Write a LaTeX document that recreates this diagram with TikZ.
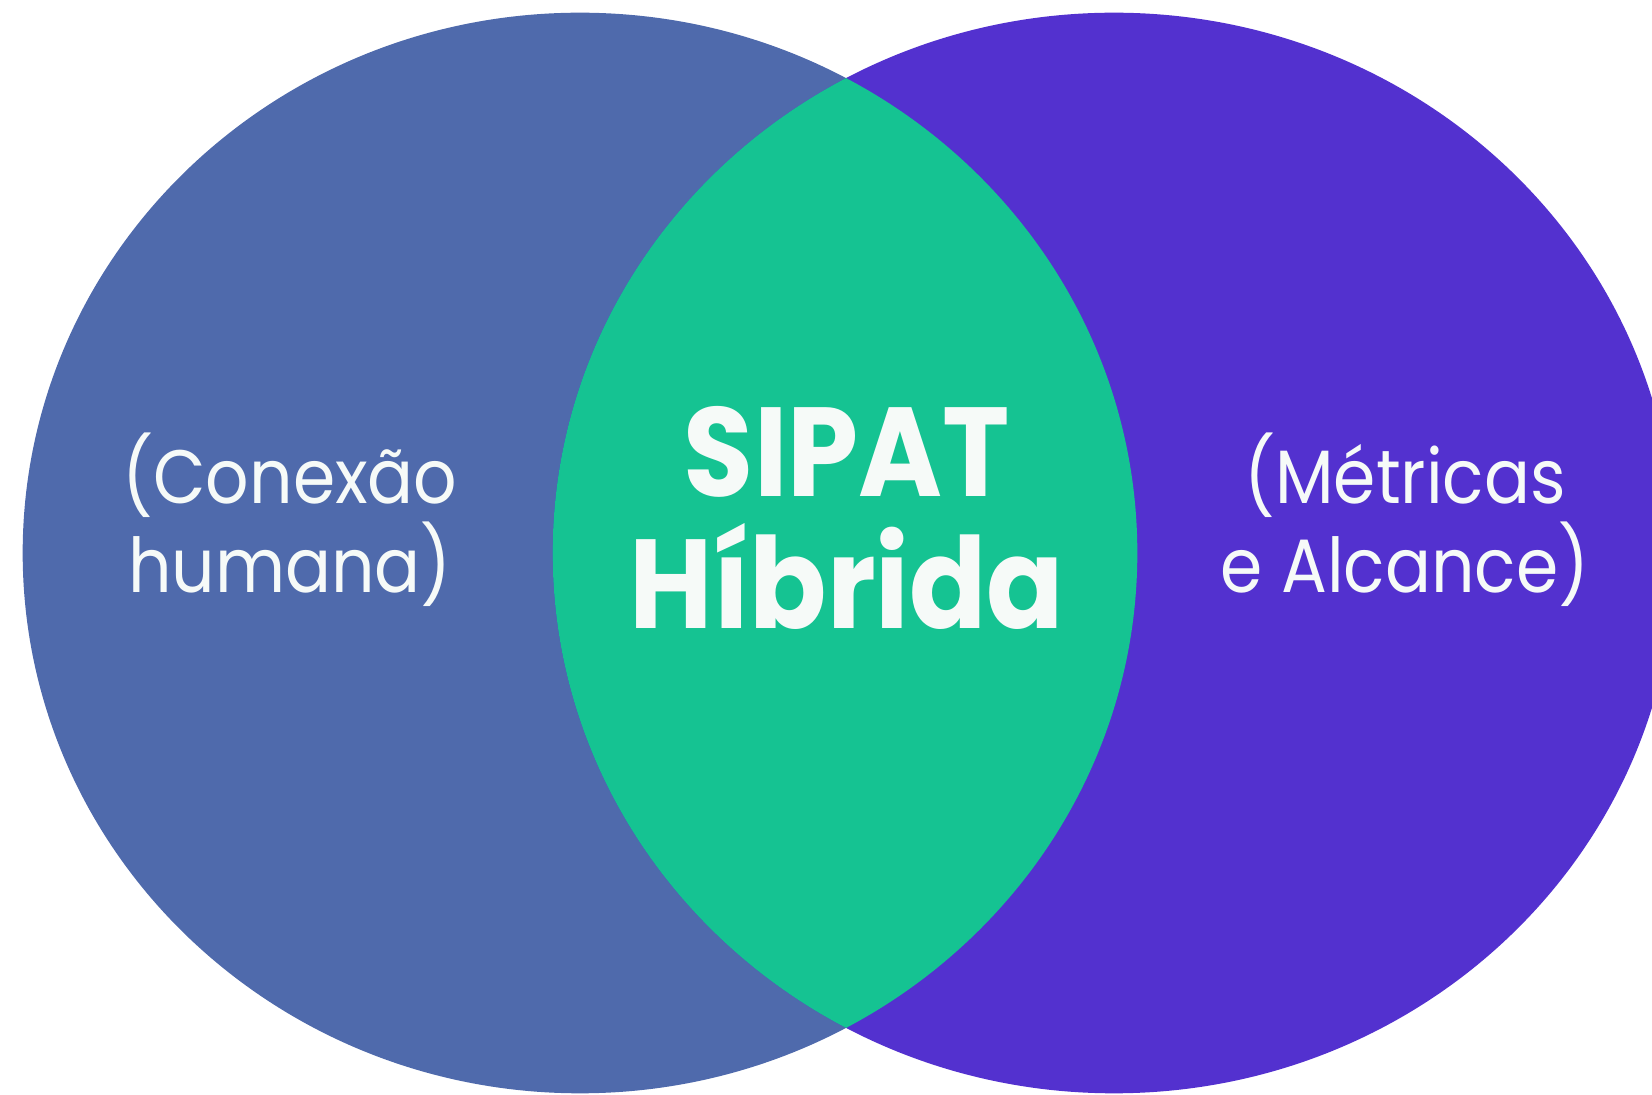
\documentclass[tikz,border=0pt]{standalone}
\usepackage{fontspec}
\setmainfont{Poppins}[FakeStretch=0.9]
\usetikzlibrary{positioning}
\definecolor{humanblue}{HTML}{4F6AAC}
\definecolor{reachviolet}{HTML}{5331CF}
\definecolor{hybridgreen}{HTML}{15C392}
\definecolor{labelwhite}{HTML}{F6FAF8}
\tikzset{%
	side label/.style={
		text=labelwhite,
		align=center,
		font=\fontsize{21.5}{25.4}\selectfont
	},
	core label/.style={
		text=labelwhite,
		align=center,
		font=\bfseries\fontsize{36}{37.5}\selectfont
	},
}

\begin{document}
\begin{tikzpicture}[x=0.01cm, y=-0.01cm]
	\useasboundingbox (0,0) rectangle (1652,1095);
	
	% Centres of the two sets
	\coordinate (human) at (580,553);
	\coordinate (reach) at (1114,553);
	
	\fill[humanblue] (human) ellipse [x radius=5.57cm, y radius=5.40cm];
	\fill[reachviolet] (reach) ellipse [x radius=5.61cm, y radius=5.40cm];
	\begin{scope}
		\clip (human) ellipse [x radius=5.57cm, y radius=5.40cm];
		\fill[hybridgreen] (reach) ellipse [x radius=5.61cm, y radius=5.40cm];
	\end{scope}
	
	% Labels
	\node[side label] (humanlabel) at (290,520) {(Conexão\\humana)};
	\node[core label] (corelabel) at (847,518) {SIPAT\\Híbrida};
	\node[side label] (reachlabel) at (1405,520) {(Métricas\\e Alcance)};
	
\end{tikzpicture}
\end{document}
